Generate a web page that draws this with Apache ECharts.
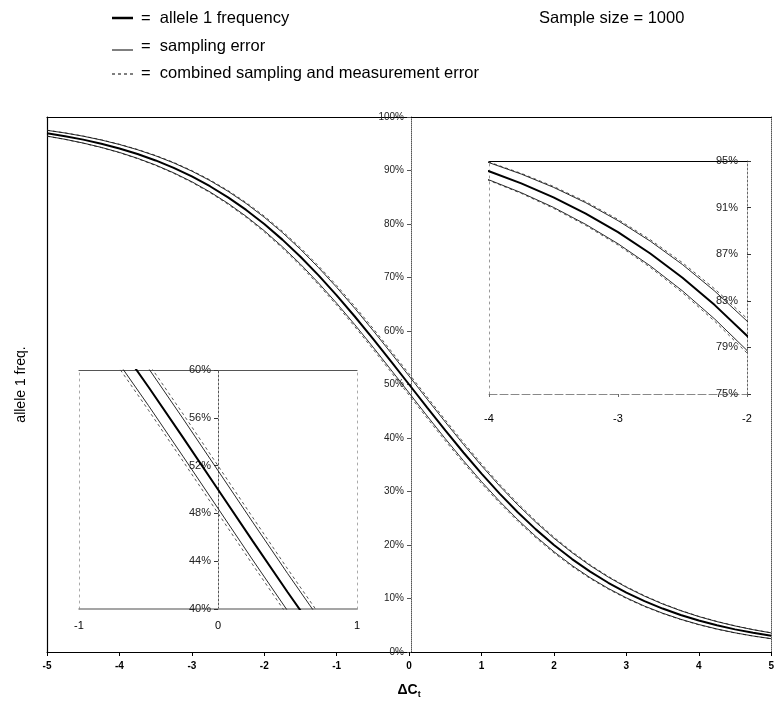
<!DOCTYPE html>
<html><head><meta charset="utf-8">
<script src="https://cdn.jsdelivr.net/npm/echarts@6/dist/echarts.min.js"></script>
<style>html,body{margin:0;padding:0;background:#fff}#c{width:777px;height:726px}</style>
</head><body><div id="c"></div>
<script>
// ΔCt values (x)
const deltaCt = [-5,-4.75,-4.5,-4.25,-4,-3.75,-3.5,-3.25,-3,-2.75,-2.5,-2.25,-2,-1.75,-1.5,-1.25,-1,-0.75,-0.5,-0.25,0,
  0.25,0.5,0.75,1,1.25,1.5,1.75,2,2.25,2.5,2.75,3,3.25,3.5,3.75,4,4.25,4.5,4.75,5];
// allele 1 frequency (%)
const allele1Freq = [96.97,96.42,95.77,95.01,94.12,93.08,91.88,90.49,88.89,87.06,84.98,82.63,80.00,77.08,73.88,70.40,66.67,62.71,58.58,54.32,50.00,
  45.68,41.42,37.29,33.33,29.60,26.12,22.92,20.00,17.37,15.02,12.94,11.11,9.51,8.12,6.92,5.88,4.99,4.23,3.58,3.03];
// sampling error bounds (%)
const samplingHi = [97.51,97.01,96.41,95.70,94.86,93.88,92.74,91.42,89.88,88.12,86.11,83.83,81.26,78.41,75.27,71.84,68.16,64.24,60.14,55.90,51.58,
  47.26,42.98,38.82,34.82,31.04,27.51,24.25,21.26,18.57,16.15,14.00,12.10,10.44,8.98,7.72,6.62,5.68,4.87,4.17,3.57];
const samplingLo = [96.43,95.83,95.13,94.32,93.38,92.28,91.02,89.56,87.90,86.00,83.85,81.43,78.74,75.75,72.49,68.96,65.18,61.18,57.02,52.74,48.42,
  44.10,39.86,35.76,31.84,28.16,24.73,21.59,18.74,16.17,13.89,11.88,10.12,8.58,7.26,6.12,5.14,4.30,3.59,2.99,2.49];
// combined sampling and measurement error bounds (%)
const combinedHi = [97.53,97.03,96.44,95.74,94.91,93.94,92.82,91.51,89.99,88.25,86.27,84.02,81.48,78.66,75.56,72.16,68.51,64.61,60.53,56.30,51.99,
  47.66,43.37,39.19,35.17,31.36,27.80,24.50,21.48,18.76,16.31,14.13,12.21,10.53,9.06,7.78,6.67,5.72,4.90,4.19,3.59];
const combinedLo = [96.41,95.81,95.10,94.28,93.33,92.22,90.94,89.47,87.79,85.87,83.69,81.24,78.52,75.50,72.20,68.64,64.83,60.81,56.63,52.34,48.01,
  43.70,39.47,35.39,31.49,27.84,24.44,21.34,18.52,15.98,13.73,11.75,10.01,8.49,7.18,6.06,5.09,4.26,3.56,2.97,2.47];

const legendLabels = ['=  allele 1 frequency', '=  sampling error', '=  combined sampling and measurement error'];
const sampleSizeText = 'Sample size = 1000';
const yAxisTitle = 'allele 1 freq.';

const FONT = '"Liberation Sans", Arial, sans-serif';
const chart = echarts.init(document.getElementById('c'), null, {renderer: 'canvas'});

// grid boxes (left, right, top, bottom)
const G0 = {left: 47, right: 2, top: 117, bottom: 74};
const G1 = {left: 79, right: 420, top: 370, bottom: 117};
const G2 = {left: 489, right: 30, top: 161, bottom: 332};
const W = 777;
// offset that places a left-side y axis at x = 0 (grid spans symmetric range)
const midOffset = g => -((W - g.left - g.right) / 2);

function pair(ys) { return deltaCt.map((x, i) => [x, ys[i]]); }
function curves(xi, yi) {
  const base = {type: 'line', xAxisIndex: xi, yAxisIndex: yi, showSymbol: false, silent: true, animation: false, clip: true};
  return [
    Object.assign({}, base, {data: pair(combinedHi), lineStyle: {color: '#444', width: 0.9, type: [3, 3]}}),
    Object.assign({}, base, {data: pair(combinedLo), lineStyle: {color: '#444', width: 0.9, type: [3, 3]}}),
    Object.assign({}, base, {data: pair(samplingHi), lineStyle: {color: '#111', width: 0.9}}),
    Object.assign({}, base, {data: pair(samplingLo), lineStyle: {color: '#111', width: 0.9}}),
    Object.assign({}, base, {data: pair(allele1Freq), lineStyle: {color: '#000', width: 2}})
  ];
}
const noSplit = {show: false};
function frameAxis(extra) {
  return Object.assign({type: 'value', axisTick: {show: false}, axisLabel: {show: false}, splitLine: noSplit}, extra);
}

const option = {
  animation: false,
  textStyle: {fontFamily: FONT},
  grid: [G0, G1, G2],
  xAxis: [
    // main
    {gridIndex: 0, type: 'value', min: -5, max: 5, interval: 1,
     axisLine: {onZero: false, lineStyle: {color: '#000', width: 1}},
     axisTick: {length: 4, lineStyle: {color: '#000'}},
     axisLabel: {fontSize: 10, fontWeight: 'bold', color: '#000', margin: 9, fontFamily: FONT},
     splitLine: noSplit,
     name: '{a|ΔC}{b|t}', nameLocation: 'middle', nameGap: 30,
     nameTextStyle: {rich: {a: {fontSize: 14, fontWeight: 'bold', color: '#000', fontFamily: FONT},
                            b: {fontSize: 9, fontWeight: 'bold', color: '#000', padding: [8, 0, 0, 0], fontFamily: FONT}}}},
    frameAxis({gridIndex: 0, position: 'top', min: -5, max: 5, axisLine: {onZero: false, lineStyle: {color: '#000', width: 1.2}}}),
    // inset 1
    {gridIndex: 1, type: 'value', min: -1, max: 1, interval: 1,
     axisLine: {onZero: false, lineStyle: {color: '#888', width: 1.5}},
     axisTick: {show: false},
     axisLabel: {fontSize: 11, color: '#000', margin: 11, fontFamily: FONT},
     splitLine: noSplit},
    frameAxis({gridIndex: 1, position: 'top', min: -1, max: 1, axisLine: {onZero: false, lineStyle: {color: '#555', width: 1.2}}}),
    // inset 2
    {gridIndex: 2, type: 'value', min: -4, max: -2, interval: 1,
     axisLine: {onZero: false, lineStyle: {color: '#888', width: 1, type: [8, 3]}},
     axisTick: {length: 3, lineStyle: {color: '#666'}},
     axisLabel: {fontSize: 11, color: '#000', margin: 19, fontFamily: FONT},
     splitLine: noSplit},
    frameAxis({gridIndex: 2, position: 'top', min: -4, max: -2, axisLine: {onZero: false, lineStyle: {color: '#000', width: 1}}})
  ],
  yAxis: [
    // main (axis drawn at x = 0)
    {gridIndex: 0, type: 'value', min: 0, max: 100, interval: 10, position: 'left', offset: midOffset(G0),
     axisLine: {onZero: false, lineStyle: {color: '#555', width: 1, type: [1, 1]}},
     axisTick: {length: 4, lineStyle: {color: '#555'}},
     axisLabel: {fontSize: 10, color: '#222', margin: 7, formatter: '{value}%', fontFamily: FONT},
     splitLine: noSplit},
    frameAxis({gridIndex: 0, position: 'left', min: 0, max: 100, axisLine: {onZero: false, lineStyle: {color: '#000', width: 1.2}},
     name: yAxisTitle, nameLocation: 'middle', nameGap: 19, nameRotate: 90,
     nameTextStyle: {fontSize: 14, color: '#000', fontFamily: FONT}}),
    frameAxis({gridIndex: 0, position: 'right', min: 0, max: 100, axisLine: {onZero: false, lineStyle: {color: '#555', width: 1, type: [1, 1]}}}),
    // inset 1 (axis drawn at x = 0)
    {gridIndex: 1, type: 'value', min: 40, max: 60, interval: 4, position: 'left', offset: midOffset(G1),
     axisLine: {onZero: false, lineStyle: {color: '#555', width: 1, type: [2, 2]}},
     axisTick: {length: 4, lineStyle: {color: '#333'}},
     axisLabel: {fontSize: 11, color: '#222', margin: 7, formatter: '{value}%', fontFamily: FONT},
     splitLine: noSplit},
    frameAxis({gridIndex: 1, position: 'left', min: 40, max: 60, axisLine: {onZero: false, lineStyle: {color: '#aaa', width: 1, type: [2, 4]}}}),
    frameAxis({gridIndex: 1, position: 'right', min: 40, max: 60, axisLine: {onZero: false, lineStyle: {color: '#aaa', width: 1, type: [2, 4]}}}),
    // inset 2
    {gridIndex: 2, type: 'value', min: 75, max: 95, interval: 4, position: 'right',
     axisLine: {onZero: false, lineStyle: {color: '#666', width: 1, type: [2, 2]}},
     axisTick: {length: 4, lineStyle: {color: '#333'}},
     axisLabel: {inside: true, fontSize: 11, color: '#222', margin: 9, formatter: '{value}%', fontFamily: FONT},
     splitLine: noSplit},
    frameAxis({gridIndex: 2, position: 'left', min: 75, max: 95, axisLine: {onZero: false, lineStyle: {color: '#999', width: 1, type: [2, 4]}}})
  ],
  series: [].concat(curves(0, 0), curves(2, 3), curves(4, 6)),
  graphic: [
    {type: 'line', shape: {x1: 112, y1: 18, x2: 133, y2: 18}, style: {stroke: '#000', lineWidth: 2.5}},
    {type: 'text', left: 141, top: 10, style: {text: legendLabels[0], fontSize: 16.5, fill: '#000', fontFamily: FONT}},
    {type: 'line', shape: {x1: 112, y1: 50, x2: 133, y2: 50}, style: {stroke: '#000', lineWidth: 1}},
    {type: 'text', left: 141, top: 38, style: {text: legendLabels[1], fontSize: 16.5, fill: '#000', fontFamily: FONT}},
    {type: 'line', shape: {x1: 112, y1: 74, x2: 134, y2: 74}, style: {stroke: '#000', lineWidth: 1, lineDash: [3, 3]}},
    {type: 'text', left: 141, top: 65, style: {text: legendLabels[2], fontSize: 16.5, fill: '#000', fontFamily: FONT}},
    {type: 'text', left: 539, top: 10, style: {text: sampleSizeText, fontSize: 16.5, fill: '#000', fontFamily: FONT}}
  ]
};
chart.setOption(option);
</script>
</body></html>
